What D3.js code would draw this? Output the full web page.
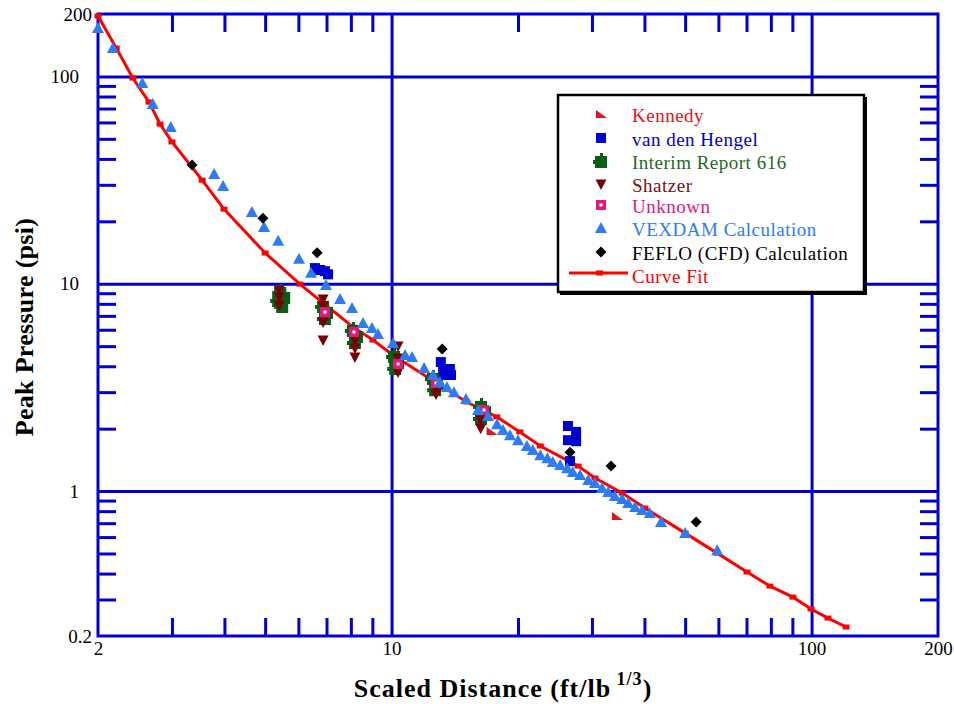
<!DOCTYPE html>
<html>
<head>
<meta charset="utf-8">
<script src="https://cdn.jsdelivr.net/npm/d3@7"></script>
<style>
  body { margin: 0; background: #fff; }
  text { font-family: "Liberation Serif", "Times New Roman", serif; }
</style>
</head>
<body>
<svg id="chart" width="954" height="704"></svg>
<script>
// datos (x = distancia escalada, y = presion pico)
var kennedy = [[17.3, 1.95], [34.4, 0.758]];
var vanDenHengel = [[6.57, 11.9], [6.76, 11.65], [6.94, 11.5], [7.06, 11.1],
  [13.1, 4.19], [13.26, 3.88], [13.77, 3.88], [13.85, 3.63], [13.33, 3.63],
  [26.3, 2.06], [27.5, 1.93], [26.3, 1.76], [27.5, 1.74], [26.6, 1.395]];
var interim = [[5.43, 9.12], [5.55, 8.63], [5.37, 8.35], [5.49, 7.81],
  [6.87, 7.81], [7.02, 7.30], [6.94, 6.83],
  [8.09, 5.98], [8.27, 5.59], [8.18, 5.23],
  [10.14, 4.48], [10.36, 4.19], [10.2, 3.92],
  [12.55, 3.51], [12.83, 3.32], [12.7, 3.10],
  [16.33, 2.57], [16.69, 2.43], [16.33, 2.25]];
var shatzer = [[5.40, 9.32], [5.40, 8.63], [5.40, 7.90],
  [6.87, 8.44], [6.87, 7.81], [6.87, 6.54], [6.87, 5.35],
  [8.18, 5.35], [8.18, 4.90], [8.18, 4.43],
  [10.36, 5.01], [10.36, 4.38], [10.36, 3.75],
  [12.76, 3.18], [12.76, 2.94],
  [16.3, 2.20], [16.3, 2.01]];
var unknown = [[6.94, 7.30], [8.14, 5.85], [10.36, 4.10], [12.76, 3.32], [16.6, 2.46]];
var vexdam = [[2.00, 171], [2.17, 137], [2.55, 92.9], [2.70, 73.6], [2.98, 57.0],
  [3.78, 33.8], [3.97, 29.6], [4.65, 22.2], [4.97, 18.8], [5.37, 16.1],
  [6.02, 13.2], [6.43, 11.3], [6.98, 9.86], [7.54, 8.44], [8.05, 7.63],
  [8.55, 6.46], [8.98, 6.11], [9.28, 5.72], [10.08, 5.18], [10.77, 4.53],
  [11.19, 4.43], [11.95, 3.92], [12.55, 3.63], [13.04, 3.36], [13.55, 3.18],
  [14.08, 3.00], [15.04, 2.78], [16.06, 2.46], [16.97, 2.30], [17.83, 2.10],
  [18.42, 1.97], [19.14, 1.86], [20.0, 1.76], [21.0, 1.65], [21.7, 1.58],
  [22.6, 1.49], [23.5, 1.44], [24.2, 1.38], [25.2, 1.335], [26.2, 1.29],
  [27.0, 1.235], [28.1, 1.195], [29.4, 1.13], [30.5, 1.093], [31.7, 1.034],
  [32.8, 0.989], [34.0, 0.946], [35.4, 0.915], [36.6, 0.875], [38.0, 0.837],
  [39.5, 0.81], [41.2, 0.783], [43.8, 0.709], [50.0, 0.627], [59.6, 0.519]];
var feflo = [[3.35, 37.4], [4.94, 20.7], [6.65, 14.1], [13.2, 4.84], [26.6, 1.54], [33.3, 1.32], [53.1, 0.709]];
var curveFit = [[2.0, 195.6], [2.21, 137], [2.42, 98.2], [2.645, 75.2], [2.81, 58.9], [3.0, 48.3],
  [3.54, 31.6], [3.99, 22.9], [5.0, 14.07], [6.05, 9.96], [6.83, 8.16], [8.1, 6.18],
  [9.03, 5.35], [10.14, 4.48], [12.7, 3.36], [15.1, 2.69], [17.8, 2.28], [20.2, 1.93],
  [22.6, 1.65], [27.8, 1.32], [30.5, 1.156], [35.4, 0.978], [40.1, 0.828], [50.0, 0.627],
  [59.6, 0.502], [70.2, 0.407], [79.6, 0.348], [90.3, 0.308], [99.7, 0.27], [109.4, 0.244], [120.8, 0.221]];

var xLabels = [2, 10, 100, 200];
var xMajor = [10, 100];
var xMinor = [3, 4, 5, 6, 7, 8, 9, 20, 30, 40, 50, 60, 70, 80, 90];
var yLabels = [0.2, 1, 10, 100, 200];
var yMajor = [1, 10, 100];
var yMinor = [0.3, 0.4, 0.5, 0.6, 0.7, 0.8, 0.9, 2, 3, 4, 5, 6, 7, 8, 9, 20, 30, 40, 50, 60, 70, 80, 90];

var blue = "#0000d2";
var plotLeft = 98, plotRight = 938, plotTop = 14, plotBottom = 636;

var svg = d3.select("#chart");

var x = d3.scaleLog().domain([2, 200]).range([plotLeft, plotRight]);
var y = d3.scaleLog().domain([0.2, 200]).range([plotBottom, plotTop]);

function styleAxis(g) {
  g.select(".domain").remove();
  g.selectAll(".tick line").attr("stroke", blue).attr("stroke-width", 3);
}

// rejilla mayor
svg.append("g")
  .attr("transform", "translate(0," + plotBottom + ")")
  .call(d3.axisBottom(x).tickValues(xMajor).tickSize(-(plotBottom - plotTop)).tickFormat(""))
  .call(styleAxis);
svg.append("g")
  .attr("transform", "translate(" + plotLeft + ",0)")
  .call(d3.axisLeft(y).tickValues(yMajor).tickSize(-(plotRight - plotLeft)).tickFormat(""))
  .call(styleAxis);

// marcas menores hacia dentro en los cuatro lados
svg.append("g").attr("transform", "translate(0," + plotBottom + ")")
  .call(d3.axisBottom(x).tickValues(xMinor).tickSize(-18).tickFormat("")).call(styleAxis);
svg.append("g").attr("transform", "translate(0," + plotTop + ")")
  .call(d3.axisTop(x).tickValues(xMinor).tickSize(-18).tickFormat("")).call(styleAxis);
svg.append("g").attr("transform", "translate(" + plotLeft + ",0)")
  .call(d3.axisLeft(y).tickValues(yMinor).tickSize(-18).tickFormat("")).call(styleAxis);
svg.append("g").attr("transform", "translate(" + plotRight + ",0)")
  .call(d3.axisRight(y).tickValues(yMinor).tickSize(-18).tickFormat("")).call(styleAxis);

// marco
svg.append("rect")
  .attr("x", plotLeft).attr("y", plotTop)
  .attr("width", plotRight - plotLeft).attr("height", plotBottom - plotTop)
  .attr("fill", "none").attr("stroke", blue).attr("stroke-width", 3);

// etiquetas
var xl = svg.append("g").attr("transform", "translate(0," + plotBottom + ")")
  .call(d3.axisBottom(x).tickValues(xLabels).tickSize(0).tickPadding(6).tickFormat(d3.format("")));
xl.select(".domain").remove();
xl.selectAll("text").attr("font-size", 19).attr("fill", "#000")
  .style("font-family", "Liberation Serif");

var yl = svg.append("g").attr("transform", "translate(" + plotLeft + ",0)")
  .call(d3.axisLeft(y).tickValues(yLabels).tickSize(0).tickPadding(6).tickFormat(d3.format("")));
yl.select(".domain").remove();
yl.selectAll("text").attr("font-size", 19).attr("fill", "#000")
  .style("font-family", "Liberation Serif")
  .attr("x", function(d) { return (d == 200 || d == 0.2) ? -6 : -19; });

// curva de ajuste
var line = d3.line().x(function(d) { return x(d[0]); }).y(function(d) { return y(d[1]); });
svg.append("path").datum(curveFit)
  .attr("d", line).attr("fill", "none").attr("stroke", "#ff0000").attr("stroke-width", 3);
svg.selectAll(".cfm").data(curveFit).enter().append("rect")
  .attr("x", function(d) { return x(d[0]) - 3.5; })
  .attr("y", function(d) { return y(d[1]) - 2.5; })
  .attr("width", 7).attr("height", 5).attr("fill", "#ff0000");

// formas de los simbolos
var shapes = {
  kennedy: "M-5,-4L-5,4L6,4Z",
  square: "M-5,-5L5,-5L5,5L-5,5Z",
  interim: "M-6,-5L-1,-5L-1,-8L2,-8L2,-5L6,-5L6,7L-6,7L-6,3L-8,3L-8,-1L-6,-1Z",
  triDown: "M-5.5,-4.5L5.5,-4.5L0,6Z",
  unknown: "M-5,-5L5,-5L5,5L-5,5Z",
  triUp: "M0,-6L6,5L-6,5Z",
  diamond: "M0,-5.5L5.5,0L0,5.5L-5.5,0Z"
};

var series = [
  { name: "Interim Report 616", data: interim, shape: "interim", color: "#0b5e16", text: "#1d6b24" },
  { name: "Shatzer", data: shatzer, shape: "triDown", color: "#780000", text: "#7a1010" },
  { name: "Unknown", data: unknown, shape: "unknown", color: "#e0197d", text: "#e0197d" },
  { name: "van den Hengel", data: vanDenHengel, shape: "square", color: "#0000d0", text: "#0000d0" },
  { name: "Kennedy", data: kennedy, shape: "kennedy", color: "#e3141b", text: "#e3141b" },
  { name: "VEXDAM Calculation", data: vexdam, shape: "triUp", color: "#2d7cf6", text: "#2d7cf6" },
  { name: "FEFLO (CFD) Calculation", data: feflo, shape: "diamond", color: "#000000", text: "#000000" }
];

series.forEach(function(s) {
  var g = svg.append("g");
  g.selectAll("path").data(s.data).enter().append("path")
    .attr("transform", function(d) { return "translate(" + x(d[0]) + "," + y(d[1]) + ")"; })
    .attr("d", shapes[s.shape]).attr("fill", s.color);
  if (s.shape == "unknown") {
    g.selectAll("rect").data(s.data).enter().append("rect")
      .attr("x", function(d) { return x(d[0]) - 1.5; })
      .attr("y", function(d) { return y(d[1]) - 1.5; })
      .attr("width", 3).attr("height", 3).attr("fill", "#fff");
  }
});

// leyenda
var legendOrder = ["Kennedy", "van den Hengel", "Interim Report 616", "Shatzer", "Unknown", "VEXDAM Calculation", "FEFLO (CFD) Calculation"];
var legend = svg.append("g").attr("transform", "translate(558,95)");
legend.append("rect").attr("x", 2).attr("y", 2).attr("width", 307).attr("height", 198).attr("fill", "#000");
legend.append("rect").attr("x", 0).attr("y", 0).attr("width", 306).attr("height", 197)
  .attr("fill", "#fff").attr("stroke", "#000").attr("stroke-width", 2.5);

var rowY = [19, 43, 66, 89, 110, 133, 157];
legendOrder.forEach(function(name, i) {
  var s = series.filter(function(d) { return d.name == name; })[0];
  var sy = rowY[i];
  legend.append("path").attr("transform", "translate(43," + sy + ")")
    .attr("d", shapes[s.shape]).attr("fill", s.color);
  if (s.shape == "unknown") {
    legend.append("rect").attr("x", 41.5).attr("y", sy - 1.5).attr("width", 3).attr("height", 3).attr("fill", "#fff");
  }
  legend.append("text").attr("x", 74).attr("y", sy + 1).attr("dy", "0.35em")
    .attr("font-size", 19).attr("letter-spacing", 0.5).attr("fill", s.text).text(name);
});
legend.append("line").attr("x1", 11).attr("x2", 70).attr("y1", 178).attr("y2", 178)
  .attr("stroke", "#ff0000").attr("stroke-width", 3);
legend.append("rect").attr("x", 38).attr("y", 175.5).attr("width", 7).attr("height", 5).attr("fill", "#ff0000");
legend.append("text").attr("x", 74).attr("y", 181).attr("dy", "0.35em")
  .attr("font-size", 19).attr("letter-spacing", 0.5).attr("fill", "#ff0000").text("Curve Fit");

// titulos de ejes
svg.append("text")
  .attr("transform", "translate(33,327) rotate(-90)")
  .attr("text-anchor", "middle").attr("font-size", 26).attr("font-weight", "bold")
  .attr("letter-spacing", 0.3)
  .text("Peak Pressure (psi)");

var xt = svg.append("text").attr("x", 503).attr("y", 697)
  .attr("text-anchor", "middle").attr("font-size", 26).attr("font-weight", "bold")
  .attr("letter-spacing", 1);
xt.append("tspan").text("Scaled Distance (ft/lb");
xt.append("tspan").attr("font-size", 18).attr("dy", -12).text(" 1/3");
xt.append("tspan").attr("dy", 12).text(")");
</script>
</body>
</html>
